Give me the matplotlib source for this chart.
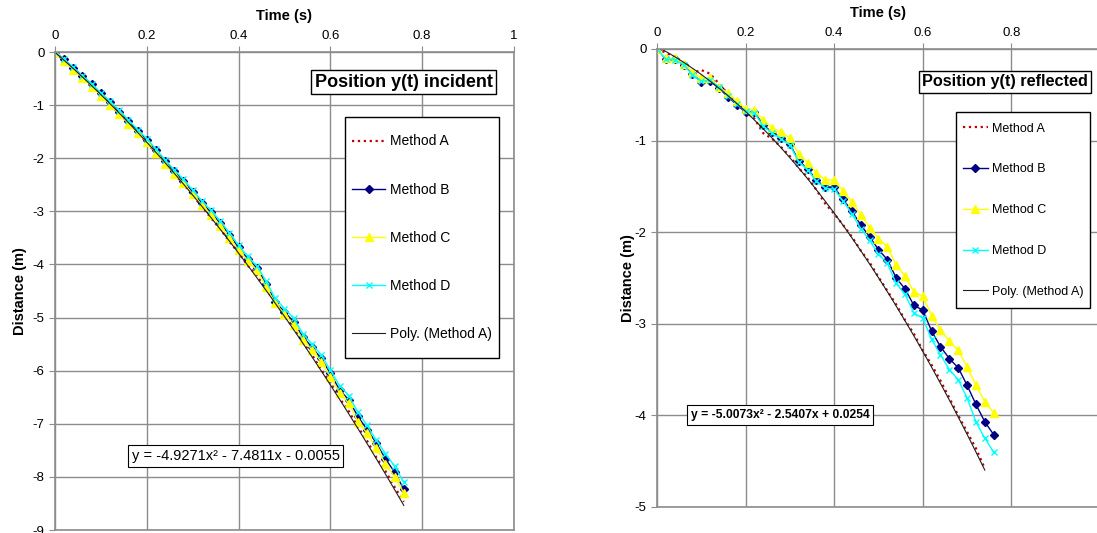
# Position y(t): incident vs reflected, four methods + poly fit of method A
from matplotlib import pyplot as plt
from matplotlib.path import Path
import matplotlib
import numpy as np
matplotlib.use('Agg')
matplotlib.rcParams['axes.unicode_minus'] = False
matplotlib.rcParams['font.family'] = ['Liberation Sans', 'DejaVu Sans']

# ---- data: incident ----
t_inc = np.round(np.arange(0, 0.77, 0.02), 2)
inc_a = [0, -0.17, -0.32, -0.50, -0.64, -0.83, -0.97, -1.17, -1.33, -1.53,
         -1.70, -1.91, -2.08, -2.30, -2.48, -2.71, -2.90, -3.13, -3.33, -3.57,
         -3.78, -4.02, -4.21, -4.47, -4.70, -4.97, -5.19, -5.47, -5.70, -5.98,
         -6.22, -6.52, -6.76, -7.06, -7.32, -7.63, -7.89, -8.19, -8.47]
inc_b = [0, -0.14, -0.30, -0.45, -0.61, -0.78, -0.94, -1.12, -1.30, -1.48,
         -1.65, -1.85, -2.05, -2.24, -2.43, -2.63, -2.84, -3.02, -3.22, -3.44,
         -3.68, -3.89, -4.06, -4.36, -4.71, -4.89, -5.08, -5.36, -5.56, -5.77,
         -6.05, -6.36, -6.55, -6.86, -7.11, -7.36, -7.66, -7.91, -8.23]
inc_c = [0, -0.16, -0.33, -0.48, -0.65, -0.82, -0.99, -1.16, -1.35, -1.53,
         -1.70, -1.90, -2.10, -2.29, -2.47, -2.68, -2.88, -3.06, -3.27, -3.50,
         -3.73, -3.93, -4.11, -4.42, -4.73, -4.93, -5.14, -5.42, -5.61, -5.83,
         -6.11, -6.42, -6.61, -6.96, -7.18, -7.46, -7.75, -8.00, -8.30]
inc_d = [0, -0.14, -0.29, -0.45, -0.60, -0.77, -0.93, -1.10, -1.28, -1.46,
         -1.63, -1.83, -2.03, -2.22, -2.40, -2.60, -2.80, -2.98, -3.18, -3.40,
         -3.64, -3.85, -4.03, -4.31, -4.64, -4.83, -5.01, -5.30, -5.50, -5.70,
         -5.99, -6.28, -6.47, -6.78, -7.03, -7.31, -7.56, -7.80, -8.10]
inc_coef = [-4.9271, -7.4811, -0.0055]
inc_eq = 'y = -4.9271x\u00b2 - 7.4811x - 0.0055'

# ---- data: reflected ----
t_ref = np.round(np.arange(0, 0.77, 0.02), 2)
t_ref_a = t_ref[:-1]
ref_a = [0, -0.04, -0.09, -0.18, -0.26, -0.23, -0.27, -0.38, -0.49, -0.58,
         -0.69, -0.76, -0.92, -0.98, -1.07, -1.17, -1.30, -1.40, -1.54, -1.69,
         -1.80, -1.92, -2.05, -2.20, -2.33, -2.49, -2.64, -2.79, -2.96, -3.11,
         -3.29, -3.45, -3.62, -3.81, -4.00, -4.18, -4.36, -4.58]
ref_b = [0, -0.11, -0.11, -0.17, -0.27, -0.36, -0.35, -0.43, -0.52, -0.61,
         -0.69, -0.69, -0.83, -0.91, -0.97, -1.04, -1.22, -1.31, -1.43, -1.51,
         -1.51, -1.64, -1.77, -1.92, -2.05, -2.19, -2.30, -2.50, -2.62, -2.80,
         -2.85, -3.08, -3.25, -3.38, -3.48, -3.67, -3.88, -4.07, -4.21]
ref_c = [0, -0.10, -0.10, -0.16, -0.25, -0.32, -0.32, -0.42, -0.48, -0.57,
         -0.65, -0.67, -0.78, -0.86, -0.91, -0.97, -1.15, -1.24, -1.35, -1.43,
         -1.43, -1.55, -1.67, -1.81, -1.95, -2.07, -2.16, -2.36, -2.48, -2.65,
         -2.70, -2.91, -3.07, -3.19, -3.29, -3.47, -3.67, -3.85, -3.97]
ref_d = [0, -0.11, -0.12, -0.17, -0.28, -0.35, -0.34, -0.42, -0.51, -0.60,
         -0.68, -0.70, -0.84, -0.92, -0.98, -1.05, -1.23, -1.32, -1.44, -1.52,
         -1.53, -1.66, -1.80, -1.96, -2.09, -2.24, -2.34, -2.56, -2.68, -2.88,
         -2.94, -3.17, -3.34, -3.50, -3.61, -3.81, -4.07, -4.25, -4.40]
ref_coef = [-5.0073, -2.5407, 0.0254]
ref_eq = 'y = -5.0073x\u00b2 - 2.5407x + 0.0254'

labels = ['Method A', 'Method B', 'Method C', 'Method D', 'Poly. (Method A)']


def tall_box(extra):
    # legend frame taller than the content, narrow side padding (like Excel)
    def box(x0, y0, w, h, mutation_size):
        e = extra * mutation_size
        return Path([(x0, y0 - e), (x0 + w, y0 - e), (x0 + w, y0 + h + e),
                     (x0, y0 + h + e), (x0, y0 - e)], closed=True)
    return box


def draw_panel(ax, t, ta, a, b, c, d, coef, ylabelpad):
    ax.plot(ta, a, color='#C00000', linestyle=':', linewidth=1.6)
    ax.plot(t, b, color='#000080', linewidth=1, marker='D', markersize=4)
    ax.plot(t, c, color='#FFFF00', linewidth=1, marker='^', markersize=6)
    ax.plot(t, d, color='#00FFFF', linewidth=1, marker='x', markersize=5)
    tt = np.linspace(ta[0], ta[-1], 100)
    ax.plot(tt, np.polyval(coef, tt), color='#202020', linewidth=0.8)

    ax.xaxis.tick_top()
    ax.xaxis.set_label_position('top')
    ax.set_xlabel('Time (s)', fontsize=10.5, fontweight='bold', labelpad=7)
    ax.set_ylabel('Distance (m)', fontsize=10.5, fontweight='bold', labelpad=ylabelpad)
    ax.grid(True, color='#8c8c8c', linewidth=1)
    ax.set_axisbelow(True)
    for s in ax.spines.values():
        s.set_color('#8c8c8c')
        s.set_linewidth(1.2)
    ax.tick_params(colors='#8c8c8c', labelcolor='black', labelsize=9.5,
                   length=4, direction='out')


fig = plt.figure(figsize=(10.97, 5.33), dpi=100)

# incident
ax1 = fig.add_axes([0.0501, 0.0056, 0.4184, 0.8968])
draw_panel(ax1, t_inc, t_inc, inc_a, inc_b, inc_c, inc_d, inc_coef, 4)
ax1.set_xlim(0, 1)
ax1.set_ylim(-9, 0)
ax1.set_xticks([0, 0.2, 0.4, 0.6, 0.8, 1])
ax1.set_xticklabels(['0', '0.2', '0.4', '0.6', '0.8', '1'])
ax1.set_yticks(range(-9, 1))
ax1.text(0.760, 0.937, 'Position y(t) incident', transform=ax1.transAxes,
         ha='center', va='center', fontsize=13, fontweight='bold',
         bbox=dict(boxstyle='square,pad=0.2', fc='white', ec='black', lw=1))
ax1.text(0.394, 0.155, inc_eq, transform=ax1.transAxes, ha='center', va='center',
         fontsize=10.5, bbox=dict(boxstyle='square,pad=0.25', fc='white', ec='black', lw=0.8))
leg1 = ax1.legend(labels, loc='upper left', bbox_to_anchor=(0.632, 0.842), fontsize=10,
                  labelspacing=2.45, borderpad=0.5, borderaxespad=0, handlelength=2.4,
                  handletextpad=0.35, frameon=True, fancybox=False, edgecolor='black',
                  framealpha=1)
leg1.get_frame().set_boxstyle(tall_box(0.75))

# reflected
ax2 = fig.add_axes([0.5989, 0.0488, 0.4038, 0.8593])
draw_panel(ax2, t_ref, t_ref_a, ref_a, ref_b, ref_c, ref_d, ref_coef, 0)
ax2.set_xlim(0, 1)
ax2.set_ylim(-5, 0)
ax2.set_xticks([0, 0.2, 0.4, 0.6, 0.8])
ax2.set_xticklabels(['0', '0.2', '0.4', '0.6', '0.8'])
ax2.set_yticks(range(-5, 1))
ax2.text(0.786, 0.928, 'Position y(t) reflected', transform=ax2.transAxes,
         ha='center', va='center', fontsize=11.7, fontweight='bold',
         bbox=dict(boxstyle='square,pad=0.2', fc='white', ec='black', lw=1))
ax2.text(0.278, 0.201, ref_eq, transform=ax2.transAxes, ha='center', va='center',
         fontsize=8.7, fontweight='bold',
         bbox=dict(boxstyle='square,pad=0.3', fc='white', ec='black', lw=0.8))
leg2 = ax2.legend(labels, loc='upper left', bbox_to_anchor=(0.675, 0.854), fontsize=9,
                  labelspacing=2.3, borderpad=0.55, borderaxespad=0, handlelength=2.0,
                  handletextpad=0.3, frameon=True, fancybox=False, edgecolor='black',
                  framealpha=1)
leg2.get_frame().set_boxstyle(tall_box(0.3))

plt.savefig('out.png', dpi=100)
